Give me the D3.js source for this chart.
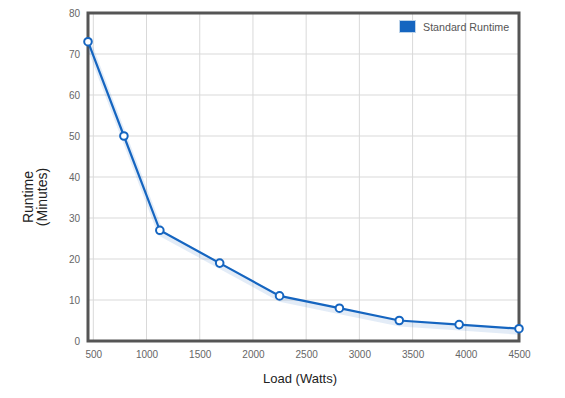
<!DOCTYPE html>
<html><head><meta charset="utf-8">
<script src="https://cdn.jsdelivr.net/npm/d3@7"></script>
<style>body{margin:0;background:#fff;font-family:Arial,"Liberation Sans",sans-serif;}</style>
</head><body><svg id="c" width="565" height="398"></svg>
<script>
const loads = [450, 787.5, 1125, 1687.5, 2250, 2812.5, 3375, 3937.5, 4500];
const runtimes = [73, 50, 27, 19, 11, 8, 5, 4, 3];
const xTicks = [500, 1000, 1500, 2000, 2500, 3000, 3500, 4000, 4500];
const yTicks = [0, 10, 20, 30, 40, 50, 60, 70, 80];
const seriesName = "Standard Runtime";

const svg = d3.select("#c");
const L = 88, R = 519, T = 13, B = 341;
const x = d3.scaleLinear().domain([450, 4500]).range([L, R]);
const y = d3.scaleLinear().domain([0, 80]).range([B, T]);

// grid
svg.append("g").selectAll("line").data(xTicks).join("line")
  .attr("x1", d => x(d)).attr("x2", d => x(d)).attr("y1", T).attr("y2", B)
  .attr("stroke", "#d9d9d9").attr("stroke-width", 1);
svg.append("g").selectAll("line").data(yTicks).join("line")
  .attr("x1", L).attr("x2", R).attr("y1", d => y(d)).attr("y2", d => y(d))
  .attr("stroke", "#d9d9d9").attr("stroke-width", 1);

// axes labels
const xa = svg.append("g").attr("transform", `translate(0,${B})`)
  .call(d3.axisBottom(x).tickValues(xTicks).tickFormat(d3.format("d")).tickSize(0).tickPadding(10));
xa.select(".domain").remove();
xa.selectAll("text").attr("fill", "#666").style("font-size", "10px").style("font-family", "Arial, 'Liberation Sans', sans-serif");
const ya = svg.append("g").attr("transform", `translate(${L},0)`)
  .call(d3.axisLeft(y).tickValues(yTicks).tickFormat(d3.format("d")).tickSize(0).tickPadding(8));
ya.select(".domain").remove();
ya.selectAll("text").attr("fill", "#666").style("font-size", "10px").style("font-family", "Arial, 'Liberation Sans', sans-serif");

// border
svg.append("rect").attr("x", L).attr("y", T).attr("width", R - L).attr("height", B - T)
  .attr("fill", "none").attr("stroke", "#555").attr("stroke-width", 3);

const data = loads.map((l, i) => ({x: l, y: runtimes[i]}));
const line = d3.line().x(d => x(d.x)).y(d => y(d.y));

// soft shadow
svg.append("path").datum(data).attr("d", line)
  .attr("fill", "none").attr("stroke", "#1565c0").attr("stroke-opacity", 0.12)
  .attr("stroke-width", 6).attr("transform", "translate(1,3)");
svg.append("path").datum(data).attr("d", line)
  .attr("fill", "none").attr("stroke", "#1565c0").attr("stroke-width", 2.2);
svg.append("g").selectAll("circle").data(data).join("circle")
  .attr("cx", d => x(d.x)).attr("cy", d => y(d.y)).attr("r", 3.8)
  .attr("fill", "#fff").attr("stroke", "#1565c0").attr("stroke-width", 2);

// legend
svg.append("rect").attr("x", 399.5).attr("y", 20.5).attr("width", 16).attr("height", 12)
  .attr("fill", "#1565c0").attr("stroke", "#bcd3ea").attr("stroke-width", 1);
svg.append("text").attr("x", 423).attr("y", 30.5).text(seriesName)
  .attr("fill", "#555").style("font-size", "10.7px");

// axis titles
svg.append("text").attr("x", 300).attr("y", 383).attr("text-anchor", "middle")
  .attr("fill", "#222").style("font-size", "13px").text("Load (Watts)");
const yt = svg.append("text").attr("transform", "translate(33,197) rotate(-90)")
  .attr("text-anchor", "middle").attr("fill", "#222").style("font-size", "14px");
yt.append("tspan").attr("x", 0).attr("dy", 0).text("Runtime");
yt.append("tspan").attr("x", 0).attr("dy", 14).text("(Minutes)");
</script></body></html>
